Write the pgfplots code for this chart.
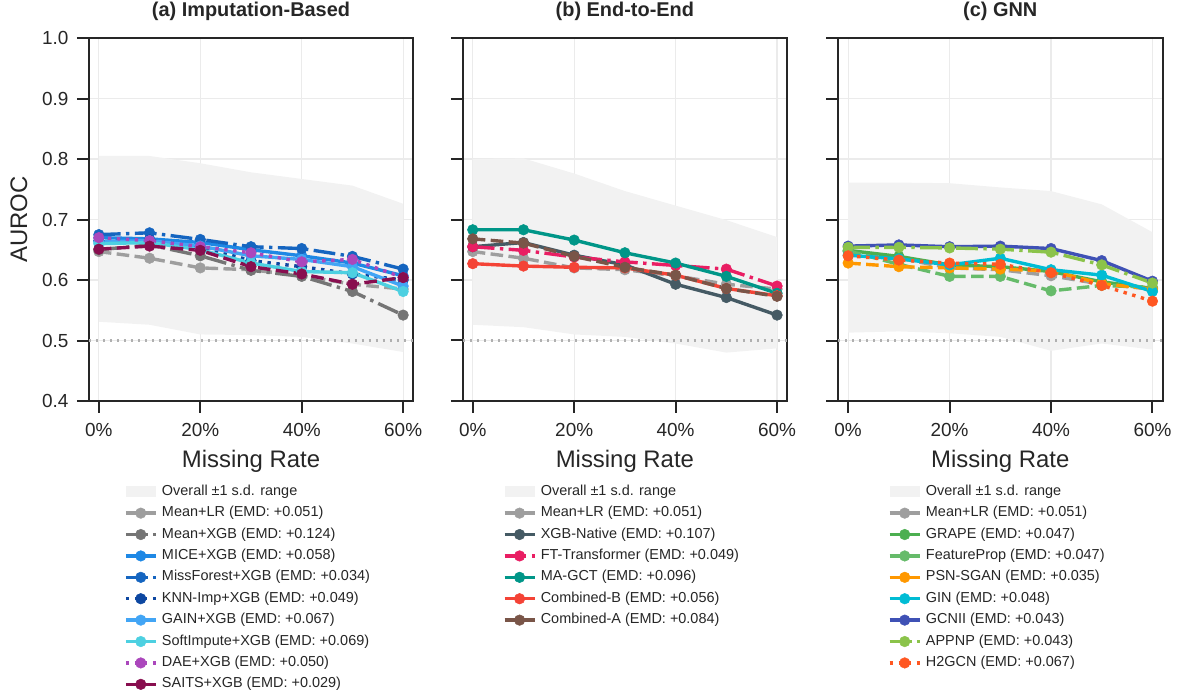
\documentclass[border=0pt]{standalone}
\usepackage{pgfplots}
\pgfplotsset{compat=1.18}
\usepackage{fontspec}
\setmainfont{Liberation Sans}
\definecolor{txt}{HTML}{262626}
\definecolor{axc}{HTML}{262626}
\definecolor{gridc}{HTML}{EBEBEB}
\definecolor{bandc}{HTML}{F2F2F2}
\definecolor{refc}{HTML}{B0B0B0}
\definecolor{cMeanLR}{HTML}{9E9E9E}
\definecolor{cMeanXGB}{HTML}{757575}
\definecolor{cMICE}{HTML}{1E88E5}
\definecolor{cMissF}{HTML}{1565C0}
\definecolor{cKNN}{HTML}{0D47A1}
\definecolor{cGAIN}{HTML}{42A5F5}
\definecolor{cSoft}{HTML}{4DD0E1}
\definecolor{cDAE}{HTML}{AB47BC}
\definecolor{cSAITS}{HTML}{880E4F}
\definecolor{cXGBN}{HTML}{455A64}
\definecolor{cFTT}{HTML}{E91E63}
\definecolor{cMAGCT}{HTML}{009688}
\definecolor{cCombB}{HTML}{F44336}
\definecolor{cCombA}{HTML}{795548}
\definecolor{cGRAPE}{HTML}{4CAF50}
\definecolor{cFP}{HTML}{66BB6A}
\definecolor{cPSN}{HTML}{FF9800}
\definecolor{cGIN}{HTML}{00BCD4}
\definecolor{cGCNII}{HTML}{3F51B5}
\definecolor{cAPPNP}{HTML}{8BC34A}
\definecolor{cH2}{HTML}{FF5722}
\pgfplotsset{
  ser/.style={line width=3.4bp, color=#1, mark=*, mark size=5.3bp,
    mark options={solid, fill=#1, draw=#1, line width=0.5bp}},
  dsh/.style={dash pattern=on 12.6bp off 5.4bp},
  dsd/.style={dash pattern=on 21.8bp off 5.4bp on 3.4bp off 5.4bp},
  dot/.style={dash pattern=on 3.4bp off 5.6bp},
  band/.style={fill=bandc, draw=none, area legend,
    legend image code/.code={\fill[bandc] (0bp,-5.5bp) rectangle (30bp,5.5bp);}},
  refline/.style={refc, line width=2.4bp, dash pattern=on 2.4bp off 4.6bp, forget plot},
  panel/.style={
    scale only axis, width=324.6bp, height=363bp, anchor=south west,
    xmin=-2, xmax=62, ymin=0.4, ymax=1.0,
    xtick={0,20,40,60}, xticklabels={0\%,20\%,40\%,60\%},
    ytick={0.4,0.5,0.6,0.7,0.8,0.9,1.0},
    /pgf/number format/assume math mode=true,
    tick label style={font=\fontsize{19}{22}\selectfont, text=txt},
    xticklabel style={yshift=-7bp},
    yticklabel style={xshift=-5bp, /pgf/number format/.cd, fixed, fixed zerofill, precision=1},
    tick align=outside, major tick length=11.7bp,
    xtick pos=bottom, ytick pos=left,
    every tick/.style={line width=2bp, color=axc},
    axis line style={line width=2bp, color=axc},
    grid=major, major grid style={line width=1.2bp, color=gridc},
    xlabel={Missing Rate},
    xlabel style={font=\fontsize{24}{28}\selectfont, text=txt,
      at={(axis description cs:0.5,-0.182)}, anchor=base},
    title style={font=\bfseries\fontsize{20}{24}\selectfont, text=txt,
      at={(axis description cs:0.5,1.0427)}, anchor=base},
    legend style={at={(0.49,-0.226)}, anchor=north, draw=none, fill=none,
      font=\fontsize{14.5}{17}\selectfont, inner sep=0pt, row sep=4.4bp,
      column sep=3bp,
      nodes={inner sep=1.5bp, text height=10.5bp, text depth=3.5bp, text=txt}},
    legend cell align=left,
    legend image code/.code={\draw[mark repeat=2,mark phase=2,##1] plot coordinates {(0bp,0bp) (15bp,0bp) (30bp,0bp)};},
  },
}
\begin{document}
\begin{tikzpicture}
\path[use as bounding box] (0,0) rectangle (1177bp,700bp);
% ---------------- (a)
\begin{axis}[panel, at={(88.7bp,299bp)}, title={(a) Imputation-Based},
  ylabel={AUROC},
  ylabel style={font=\fontsize{24}{28}\selectfont, text=txt,
    at={(axis description cs:-0.2147,0.5)}, anchor=center}]
\addplot[band] coordinates {(0,0.805)(10,0.805)(20,0.793)(30,0.778)(40,0.767)(50,0.756)(60,0.726)
  (60,0.481)(50,0.495)(40,0.506)(30,0.509)(20,0.510)(10,0.526)(0,0.531)};
\addlegendentry{Overall ±1 s.d. range}
\addplot[refline] coordinates {(-2,0.5)(62,0.5)};
\addplot[ser=cMeanLR, dsh] coordinates {(0,0.647)(10,0.636)(20,0.620)(30,0.617)(40,0.607)(50,0.593)(60,0.585)};
\addlegendentry{Mean+LR (EMD: +0.051)}
\addplot[ser=cMeanXGB, dsd] coordinates {(0,0.650)(10,0.658)(20,0.640)(30,0.616)(40,0.606)(50,0.581)(60,0.542)};
\addlegendentry{Mean+XGB (EMD: +0.124)}
\addplot[ser=cMICE] coordinates {(0,0.670)(10,0.668)(20,0.662)(30,0.650)(40,0.640)(50,0.628)(60,0.607)};
\addlegendentry{MICE+XGB (EMD: +0.058)}
\addplot[ser=cMissF, dsd] coordinates {(0,0.675)(10,0.678)(20,0.667)(30,0.655)(40,0.652)(50,0.639)(60,0.618)};
\addlegendentry{MissForest+XGB (EMD: +0.034)}
\addplot[ser=cKNN, dot] coordinates {(0,0.665)(10,0.666)(20,0.655)(30,0.632)(40,0.622)(50,0.610)(60,0.600)};
\addlegendentry{KNN-Imp+XGB (EMD: +0.049)}
\addplot[ser=cGAIN] coordinates {(0,0.663)(10,0.665)(20,0.656)(30,0.640)(40,0.634)(50,0.622)(60,0.590)};
\addlegendentry{GAIN+XGB (EMD: +0.067)}
\addplot[ser=cSoft] coordinates {(0,0.660)(10,0.662)(20,0.650)(30,0.628)(40,0.614)(50,0.612)(60,0.581)};
\addlegendentry{SoftImpute+XGB (EMD: +0.069)}
\addplot[ser=cDAE, dot] coordinates {(0,0.670)(10,0.665)(20,0.655)(30,0.645)(40,0.630)(50,0.634)(60,0.604)};
\addlegendentry{DAE+XGB (EMD: +0.050)}
\addplot[ser=cSAITS, dsh] coordinates {(0,0.651)(10,0.656)(20,0.649)(30,0.622)(40,0.610)(50,0.593)(60,0.604)};
\addlegendentry{SAITS+XGB (EMD: +0.029)}
\end{axis}
% ---------------- (b)
\begin{axis}[panel, at={(462.6bp,299bp)}, title={(b) End-to-End}, yticklabels={}]
\addplot[band] coordinates {(0,0.800)(10,0.801)(20,0.776)(30,0.747)(40,0.723)(50,0.699)(60,0.671)
  (60,0.487)(50,0.480)(40,0.495)(30,0.506)(20,0.510)(10,0.522)(0,0.526)};
\addlegendentry{Overall ±1 s.d. range}
\addplot[refline] coordinates {(-2,0.5)(62,0.5)};
\addplot[ser=cMeanLR, dsh] coordinates {(0,0.647)(10,0.636)(20,0.620)(30,0.617)(40,0.607)(50,0.593)(60,0.585)};
\addlegendentry{Mean+LR (EMD: +0.051)}
\addplot[ser=cXGBN] coordinates {(0,0.655)(10,0.662)(20,0.641)(30,0.625)(40,0.593)(50,0.571)(60,0.542)};
\addlegendentry{XGB-Native (EMD: +0.107)}
\addplot[ser=cFTT, dsd] coordinates {(0,0.655)(10,0.649)(20,0.638)(30,0.630)(40,0.624)(50,0.618)(60,0.590)};
\addlegendentry{FT-Transformer (EMD: +0.049)}
\addplot[ser=cMAGCT] coordinates {(0,0.683)(10,0.683)(20,0.666)(30,0.645)(40,0.628)(50,0.606)(60,0.578)};
\addlegendentry{MA-GCT (EMD: +0.096)}
\addplot[ser=cCombB] coordinates {(0,0.627)(10,0.623)(20,0.621)(30,0.620)(40,0.608)(50,0.586)(60,0.574)};
\addlegendentry{Combined-B (EMD: +0.056)}
\addplot[ser=cCombA, dsh] coordinates {(0,0.668)(10,0.661)(20,0.639)(30,0.621)(40,0.608)(50,0.586)(60,0.573)};
\addlegendentry{Combined-A (EMD: +0.084)}
\end{axis}
% ---------------- (c)
\begin{axis}[panel, at={(838bp,299bp)}, title={(c) GNN}, yticklabels={}]
\addplot[band] coordinates {(0,0.761)(10,0.761)(20,0.760)(30,0.753)(40,0.747)(50,0.725)(60,0.679)
  (60,0.485)(50,0.495)(40,0.483)(30,0.506)(20,0.512)(10,0.515)(0,0.513)};
\addlegendentry{Overall ±1 s.d. range}
\addplot[refline] coordinates {(-2,0.5)(62,0.5)};
\addplot[ser=cMeanLR, dsh] coordinates {(0,0.647)(10,0.636)(20,0.620)(30,0.617)(40,0.607)(50,0.593)(60,0.585)};
\addlegendentry{Mean+LR (EMD: +0.051)}
\addplot[ser=cGRAPE] coordinates {(0,0.649)(10,0.639)(20,0.625)(30,0.622)(40,0.614)(50,0.597)(60,0.586)};
\addlegendentry{GRAPE (EMD: +0.047)}
\addplot[ser=cFP, dsh] coordinates {(0,0.648)(10,0.626)(20,0.606)(30,0.606)(40,0.582)(50,0.591)(60,0.588)};
\addlegendentry{FeatureProp (EMD: +0.047)}
\addplot[ser=cPSN, dsh] coordinates {(0,0.628)(10,0.622)(20,0.620)(30,0.618)(40,0.615)(50,0.594)(60,0.585)};
\addlegendentry{PSN-SGAN (EMD: +0.035)}
\addplot[ser=cGIN] coordinates {(0,0.641)(10,0.635)(20,0.625)(30,0.636)(40,0.617)(50,0.608)(60,0.581)};
\addlegendentry{GIN (EMD: +0.048)}
\addplot[ser=cGCNII] coordinates {(0,0.656)(10,0.658)(20,0.655)(30,0.656)(40,0.652)(50,0.632)(60,0.598)};
\addlegendentry{GCNII (EMD: +0.043)}
\addplot[ser=cAPPNP, dsd] coordinates {(0,0.654)(10,0.654)(20,0.653)(30,0.651)(40,0.646)(50,0.625)(60,0.595)};
\addlegendentry{APPNP (EMD: +0.043)}
\addplot[ser=cH2, dot] coordinates {(0,0.640)(10,0.633)(20,0.628)(30,0.626)(40,0.612)(50,0.591)(60,0.565)};
\addlegendentry{H2GCN (EMD: +0.067)}
\end{axis}
\end{tikzpicture}
\end{document}
